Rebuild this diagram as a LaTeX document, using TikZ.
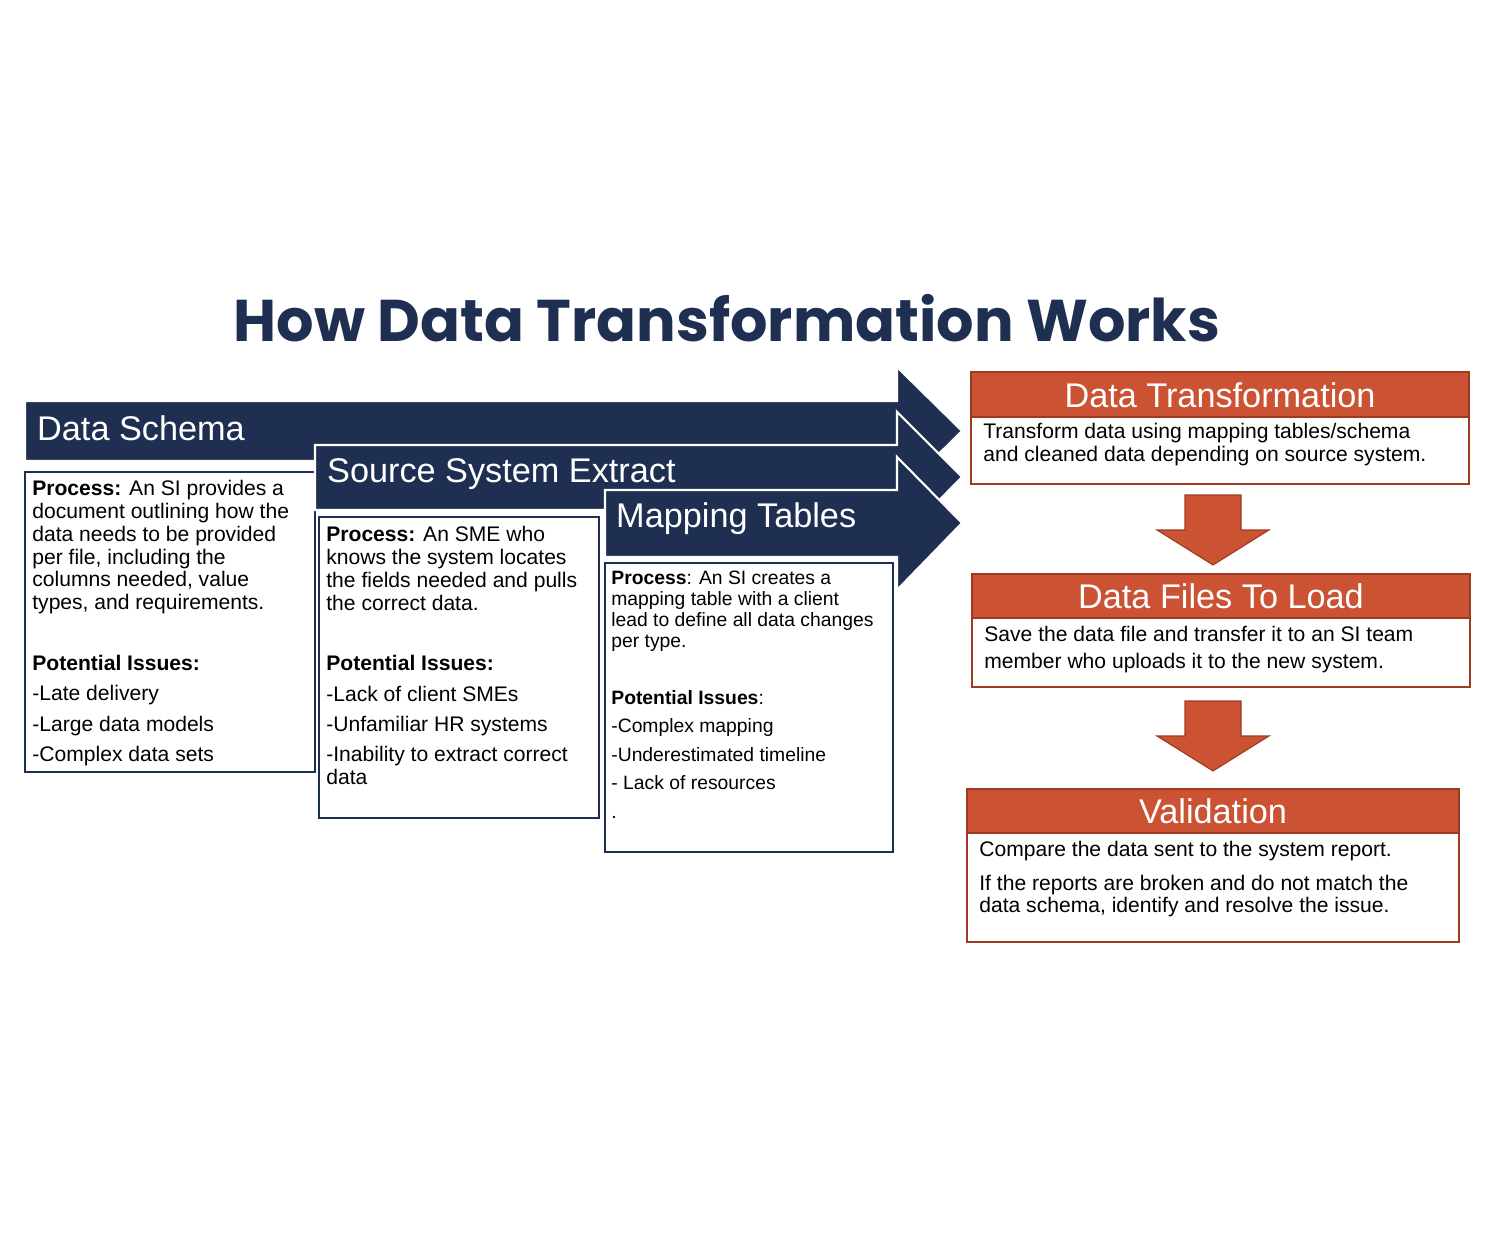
\documentclass[tikz,border=0pt]{standalone}
\usepackage{fontspec}
\setmainfont{Liberation Sans}
\newfontfamily\titlefont{Poppins}
\usetikzlibrary{positioning}
\definecolor{navy}{HTML}{1F2F52}
\definecolor{rust}{HTML}{CB5232}
\definecolor{rustdark}{HTML}{9E3A22}

\begin{document}
\begin{tikzpicture}[
    x=0.02cm, y=-0.02cm,
    band/.style={fill=navy, draw=white, line width=1.2pt},
    infobox/.style={draw=navy, line width=0.6pt, fill=white},
    infotext/.style={anchor=north west, inner sep=0pt, align=left, text=black, font=\fontsize{12}{13}\selectfont},
    bandtitle/.style={anchor=west, text=white, font=\fontsize{19.5}{22}\selectfont},
    headbox/.style={fill=rust, draw=rustdark, line width=0.6pt},
    headtext/.style={text=white, font=\fontsize{19.5}{22}\selectfont},
    bodybox/.style={draw=rustdark, line width=0.6pt, fill=white},
    downarrow/.style={fill=rust, draw=rustdark, line width=0.6pt}
]
\useasboundingbox (0,0) rectangle (1496,1236);

% Title
\node[text=navy, font=\titlefont\bfseries\fontsize{33.5}{36}\selectfont] (title) at (727,318) {How Data Transformation Works};

% Data Schema
\filldraw[band] (25,401) -- (897,401) -- (897,367) -- (962,431) -- (897,495) -- (897,461) -- (25,461) -- cycle;
\node[bandtitle] (schema) at (31,428) {Data Schema};
\draw[infobox] (25,472) rectangle (315,772);
\node[infotext] (schematext) at (32,480) {\textbf{Process:} An SI provides a\\document outlining how the\\data needs to be provided\\per file, including the\\columns needed, value\\types, and requirements.\\[1.8em]\textbf{Potential Issues:}\\[0.35em]-Late delivery\\[0.35em]-Large data models\\[0.35em]-Complex data sets};

% Source System Extract
\filldraw[band] (315,445) -- (897,445) -- (897,412) -- (962,477) -- (897,543) -- (897,510) -- (315,510) -- cycle;
\node[bandtitle] (extract) at (321,474) {Source System Extract};
\draw[infobox] (319,517) rectangle (599,818);
\node[infotext] (extracttext) at (326,526) {\textbf{Process:} An SME who\\knows the system locates\\the fields needed and pulls\\the correct data.\\[1.8em]\textbf{Potential Issues:}\\[0.35em]-Lack of client SMEs\\[0.35em]-Unfamiliar HR systems\\[0.35em]-Inability to extract correct\\data};

% Mapping Tables
\filldraw[band] (605,490) -- (897,490) -- (897,457) -- (962,523) -- (897,590) -- (897,557) -- (605,557) -- cycle;
\node[bandtitle] (mapping) at (610,519) {Mapping Tables};
\draw[infobox] (605,563) rectangle (893,852);
\node[infotext, font=\fontsize{11}{11.8}\selectfont] (mappingtext) at (611,571) {\textbf{Process}: An SI creates a\\mapping table with a client\\lead to define all data changes\\per type.\\[1.9em]\textbf{Potential Issues}:\\[0.4em]-Complex mapping\\[0.4em]-Underestimated timeline\\[0.4em]- Lack of resources\\[0.4em].};

% Data Transformation
\draw[bodybox] (971,417) rectangle (1469,484);
\draw[headbox] (971,372) rectangle (1469,417);
\node[headtext] (transform) at (1220,395) {Data Transformation};
\node[infotext] (transformtext) at (983,423) {Transform data using mapping tables/schema\\and cleaned data depending on source system.};

\filldraw[downarrow] (1185,495) -- (1241,495) -- (1241,530) -- (1269,530) -- (1213,565) -- (1157,530) -- (1185,530) -- cycle;

% Data Files To Load
\draw[bodybox] (972,618) rectangle (1470,687);
\draw[headbox] (972,574) rectangle (1470,618);
\node[headtext] (files) at (1221,596) {Data Files To Load};
\node[infotext, font=\fontsize{12}{15.5}\selectfont] (filestext) at (984,626) {Save the data file and transfer it to an SI team\\member who uploads it to the new system.};

\filldraw[downarrow] (1185,701) -- (1241,701) -- (1241,736) -- (1269,736) -- (1213,771) -- (1157,736) -- (1185,736) -- cycle;

% Validation
\draw[bodybox] (967,833) rectangle (1459,942);
\draw[headbox] (967,789) rectangle (1459,833);
\node[headtext] (valid) at (1213,811) {Validation};
\node[infotext] (validtext) at (979,841) {Compare the data sent to the system report.\\[0.5em]If the reports are broken and do not match the\\data schema, identify and resolve the issue.};

\end{tikzpicture}
\end{document}
